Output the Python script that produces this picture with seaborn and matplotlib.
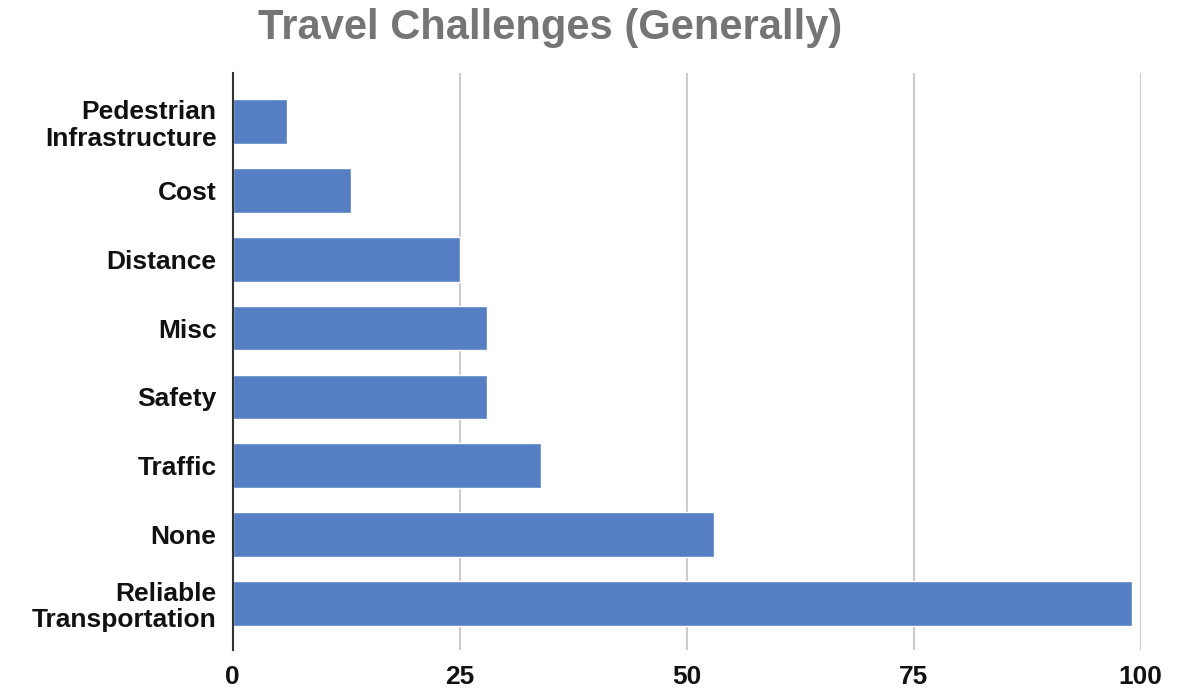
import matplotlib
matplotlib.use("Agg")
import matplotlib.pyplot as plt
import seaborn as sns
import pandas as pd

categories = ["Pedestrian\nInfrastructure", "Cost", "Distance", "Misc", "Safety",
              "Traffic", "None", "Reliable\nTransportation"]
values = [6, 13, 25, 28, 28, 34, 53, 99]
x_ticks = [0, 25, 50, 75, 100]

df = pd.DataFrame({"category": categories, "value": values})

sns.set_theme(style="white")
plt.rcParams['font.family'] = ['Liberation Sans', 'DejaVu Sans']

fig = plt.figure(figsize=(11.77, 6.93), dpi=100)
W, H = 1177, 693
ax = fig.add_axes([232.5 / W, (H - 650) / H, (1140.7 - 232.5) / W, (650 - 73) / H])

sns.barplot(data=df, x="value", y="category", orient="h", color="#557FC2",
            saturation=1, width=0.65, ax=ax, zorder=3)

ax.set_xlim(0, 100)
ax.set_ylim(7.68, -0.71)
ax.set_xticks(x_ticks)
ax.set_xticklabels([str(t) for t in x_ticks], fontsize=19, fontweight="bold", color="#111111")
ax.tick_params(axis="y", labelsize=19, length=0, pad=11.5)
ax.tick_params(axis="x", length=0, pad=11)
for lbl in ax.get_yticklabels():
    lbl.set_fontweight("bold")
    lbl.set_color("#111111")
    lbl.set_multialignment("right")
    lbl.set_linespacing(1.12)
ax.set_xlabel("")
ax.set_ylabel("")
for g in [25, 50, 75, 100]:
    ax.axvline(g, color="#cccccc", lw=1.5, zorder=1)
for s in ["top", "right", "bottom"]:
    ax.spines[s].set_visible(False)
ax.spines["left"].set_color("#333333")
ax.spines["left"].set_linewidth(1.5)
ax.spines["left"].set_zorder(4)

fig.text(550 / W, 1 - 28 / H, "Travel Challenges (Generally)", ha="center", va="center",
         fontsize=30, fontweight="bold", color="#757575")

fig.savefig("out.png", dpi=100)
